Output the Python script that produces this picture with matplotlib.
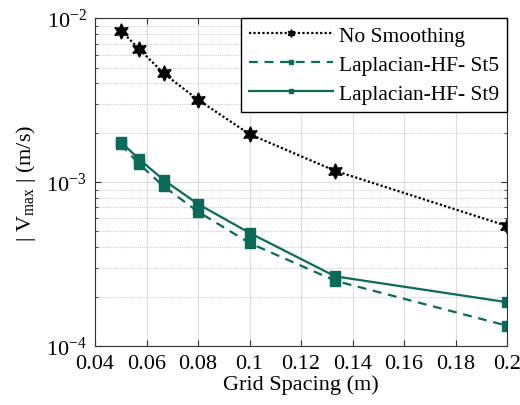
import numpy as np
import matplotlib
matplotlib.use("Agg")
import matplotlib.pyplot as plt
import matplotlib.ticker as plticker

plt.rcParams['font.family'] = ['Liberation Serif', 'DejaVu Serif']
plt.rcParams['mathtext.fontset'] = 'custom'
plt.rcParams['mathtext.rm'] = 'Liberation Serif'
plt.rcParams['mathtext.it'] = 'Liberation Serif:italic'

# grid spacing (m)
spacing = [0.05, 0.0571, 0.0667, 0.08, 0.1, 0.1333, 0.2]

# |V_max| (m/s)
no_smooth = [8.4e-3, 6.5e-3, 4.6e-3, 3.18e-3, 1.96e-3, 1.17e-3, 5.4e-4]
lap_st5 = [1.70e-3, 1.29e-3, 9.4e-4, 6.6e-4, 4.25e-4, 2.5e-4, 1.33e-4]
lap_st9 = [1.76e-3, 1.38e-3, 1.03e-3, 7.35e-4, 4.9e-4, 2.66e-4, 1.85e-4]

labels = ['No Smoothing', 'Laplacian-HF- St5', 'Laplacian-HF- St9']
xticks = [0.04, 0.06, 0.08, 0.1, 0.12, 0.14, 0.16, 0.18, 0.2]
xticklabels = ['0.04', '0.06', '0.08', '0.1', '0.12', '0.14', '0.16', '0.18', '0.2']

teal = '#0b6b58'

fig = plt.figure(figsize=(5.2, 4.06), dpi=100)
ax = fig.add_axes([0.1827, 0.1453, 0.7923, 0.8075])

hexagram = (6, 1, 0)
ax.plot(spacing, no_smooth, color='black', linestyle=(0, (1, 1)), lw=1.6,
        marker=hexagram, markersize=11, label=labels[0])
ax.plot(spacing, lap_st5, color=teal, linestyle=(0, (4, 3)), lw=1.6,
        marker='s', markersize=7, label=labels[1])
ax.plot(spacing, lap_st9, color=teal, linestyle='-', lw=1.6,
        marker='s', markersize=7, label=labels[2])

ax.set_yscale('log')
ax.set_xlim(0.04, 0.2)
ax.set_ylim(1e-4, 1e-2)
ax.set_xticks(xticks)
ax.set_xticklabels(xticklabels)
ax.yaxis.set_major_locator(plticker.LogLocator(base=10, numticks=5))
ax.yaxis.set_minor_locator(plticker.LogLocator(base=10, subs=np.arange(2, 10), numticks=10))
ax.yaxis.set_minor_formatter(plticker.NullFormatter())

ax.grid(which='major', axis='both', color='#dcdcdc', linestyle='-', lw=0.8)
ax.grid(which='minor', axis='y', color='#cfcfcf', linestyle=(0, (1, 1)), lw=0.8)
ax.set_axisbelow(True)

ax.tick_params(which='both', direction='in', top=True, right=True, labelsize=16,
               color='#333333')
ax.tick_params(which='major', length=4, pad=6)
ax.tick_params(which='minor', length=2.5)
for s in ax.spines.values():
    s.set_color('#333333')
    s.set_linewidth(0.8)

ax.set_xlabel('Grid Spacing (m)', fontsize=16, labelpad=1)
ax.set_ylabel(r'| V$_{\mathregular{max}}$ | (m/s)', fontsize=16, labelpad=6)

leg = ax.legend(loc='upper right', fontsize=15.5, handlelength=3.9, handletextpad=0.3,
                borderaxespad=0, borderpad=0.35, labelspacing=0.42, fancybox=False,
                markerscale=0.5, framealpha=1)
leg.get_frame().set_edgecolor('black')
leg.get_frame().set_linewidth(1.0)

plt.savefig('out.png', dpi=100)
